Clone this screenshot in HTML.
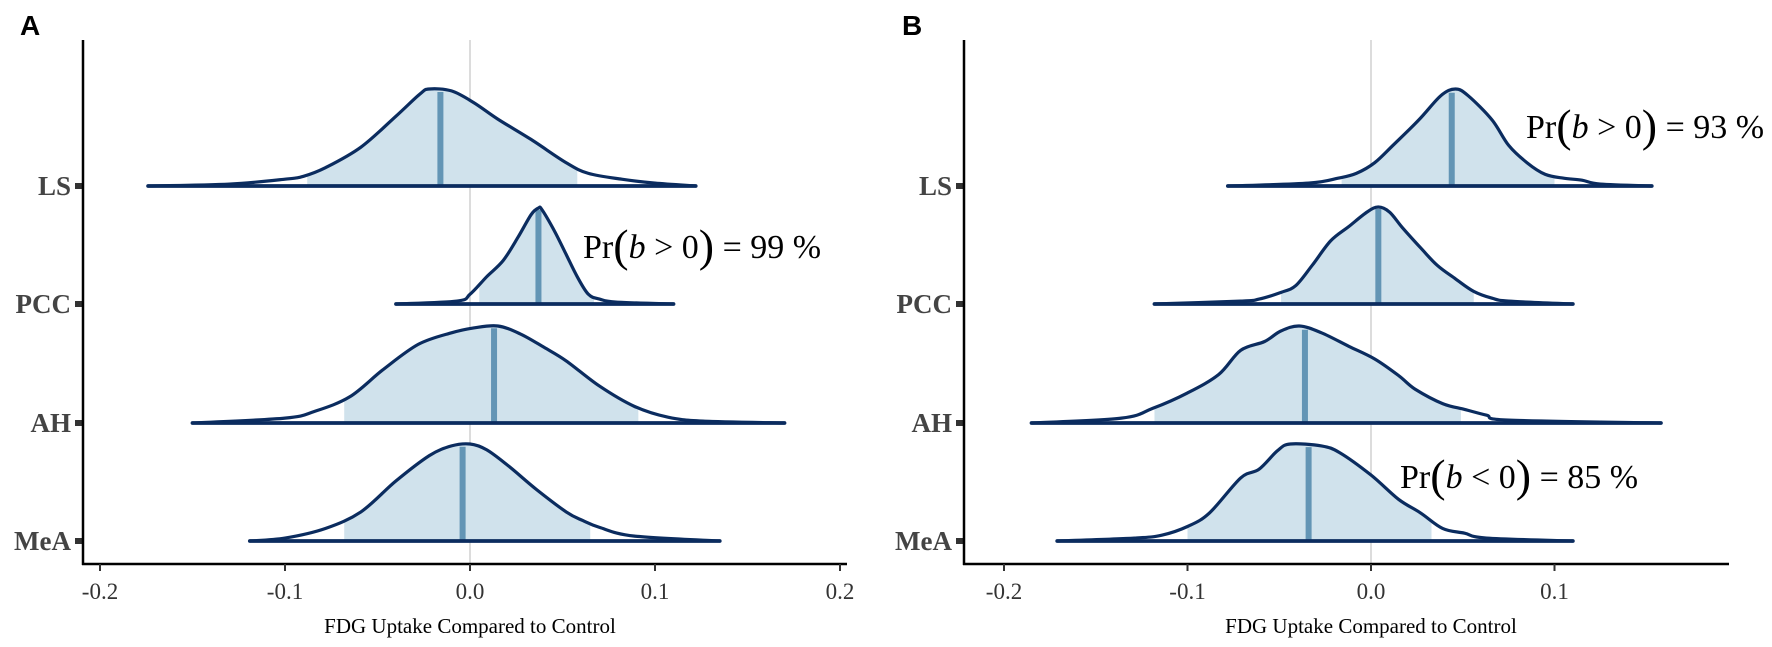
<!DOCTYPE html>
<html><head><meta charset="utf-8"><style>
html,body{margin:0;padding:0;background:#fff}
svg{display:block}
text{font-family:"Liberation Serif",serif}
text.sans{font-family:"Liberation Sans",sans-serif}
</style></head><body>
<svg id="chart" width="1772" height="647" viewBox="0 0 1772 647" xmlns="http://www.w3.org/2000/svg"></svg>
<script>
// ---------- data ----------
const categories = ['LS','PCC','AH','MeA'];
const tickValsA = [-0.2,-0.1,0.0,0.1,0.2];
const tickLabelsA = ['-0.2','-0.1','0.0','0.1','0.2'];
const tickValsB = [-0.2,-0.1,0.0,0.1];
const tickLabelsB = ['-0.2','-0.1','0.0','0.1'];

// Panel A densities (x in data units, h normalised height)
const aLSx = [-0.174,-0.13,-0.1,-0.09,-0.078,-0.059,-0.04,-0.027,-0.022,-0.01,0.002,0.015,0.033,0.052,0.064,0.082,0.1,0.122];
const aLSh = [0,0.02,0.07,0.1,0.19,0.4,0.72,0.95,1.0,0.98,0.86,0.69,0.48,0.24,0.13,0.07,0.03,0];
const aPCCx = [-0.04,-0.007,0,0.009,0.018,0.026,0.033,0.037,0.039,0.046,0.052,0.058,0.064,0.07,0.079,0.11];
const aPCCh = [0,0.03,0.1,0.28,0.45,0.69,0.92,0.99,0.97,0.74,0.51,0.28,0.1,0.05,0.02,0];
const aAHx = [-0.15,-0.1,-0.084,-0.065,-0.047,-0.028,-0.01,0.002,0.015,0.027,0.04,0.052,0.07,0.089,0.107,0.126,0.17];
const aAHh = [0,0.05,0.12,0.27,0.55,0.81,0.93,0.98,1.0,0.92,0.78,0.64,0.38,0.17,0.06,0.02,0];
const aMeAx = [-0.119,-0.1,-0.078,-0.059,-0.04,-0.022,-0.01,0,0.009,0.021,0.036,0.052,0.061,0.07,0.089,0.135];
const aMeAh = [0,0.03,0.13,0.3,0.62,0.88,0.98,1.0,0.94,0.77,0.53,0.3,0.21,0.14,0.05,0];
const aCILow = [-0.088,0.005,-0.068,-0.068];
const aCIHigh = [0.058,0.067,0.091,0.065];
const aMedian = [-0.016,0.037,0.013,-0.004];

// Panel B densities
const bLSx = [-0.078,-0.034,-0.018,-0.008,0.002,0.012,0.026,0.038,0.046,0.053,0.066,0.075,0.085,0.095,0.105,0.115,0.125,0.153];
const bLSh = [0,0.03,0.08,0.13,0.24,0.42,0.68,0.93,1.0,0.93,0.68,0.42,0.24,0.12,0.08,0.06,0.02,0];
const bPCCx = [-0.118,-0.071,-0.061,-0.049,-0.041,-0.032,-0.022,-0.012,-0.002,0.004,0.01,0.017,0.027,0.036,0.046,0.056,0.066,0.075,0.11];
const bPCCh = [0,0.03,0.05,0.12,0.19,0.4,0.65,0.8,0.95,1.0,0.95,0.79,0.58,0.4,0.26,0.13,0.06,0.03,0];
const bAHx = [-0.185,-0.136,-0.119,-0.1,-0.083,-0.071,-0.058,-0.049,-0.039,-0.027,-0.012,0.002,0.015,0.024,0.039,0.051,0.063,0.075,0.158];
const bAHh = [0,0.05,0.15,0.31,0.5,0.75,0.84,0.95,1.0,0.93,0.79,0.66,0.49,0.35,0.2,0.14,0.08,0.03,0];
const bMeAx = [-0.171,-0.129,-0.114,-0.1,-0.088,-0.071,-0.061,-0.051,-0.044,-0.027,-0.017,0,0.015,0.027,0.039,0.051,0.063,0.11];
const bMeAh = [0,0.03,0.06,0.15,0.29,0.65,0.74,0.93,1.0,0.98,0.91,0.68,0.43,0.29,0.13,0.08,0.03,0];
const bCILow = [-0.016,-0.049,-0.118,-0.1];
const bCIHigh = [0.1,0.056,0.049,0.033];
const bMedian = [0.044,0.004,-0.036,-0.034];

// ---------- layout ----------
const NS='http://www.w3.org/2000/svg';
const svg=document.getElementById('chart');
const baselines=[186,304,423,541];
const H=97, axisY=564, axisTop=40;
const FILL='#d0e2ec', LINE='#0b2c5f', MED='#6395b5';

function mk(tag, attrs, parent){const e=document.createElementNS(NS,tag);for(const k in attrs)e.setAttribute(k,attrs[k]);(parent||svg).appendChild(e);return e;}

function interp(xs,hs,x){if(x<=xs[0])return hs[0];for(let i=1;i<xs.length;i++){if(x<=xs[i]){const t=(x-xs[i-1])/(xs[i]-xs[i-1]);return hs[i-1]+t*(hs[i]-hs[i-1]);}}return hs[hs.length-1];}

function smoothPath(pts){let d='M'+pts[0][0]+','+pts[0][1];for(let i=0;i<pts.length-1;i++){const p0=pts[i-1]||pts[i],p1=pts[i],p2=pts[i+1],p3=pts[i+2]||p2;const c1x=p1[0]+(p2[0]-p0[0])/6,c1y=p1[1]+(p2[1]-p0[1])/6,c2x=p2[0]-(p3[0]-p1[0])/6,c2y=p2[1]-(p3[1]-p1[1])/6;d+=' C'+c1x.toFixed(1)+','+c1y.toFixed(1)+' '+c2x.toFixed(1)+','+c2y.toFixed(1)+' '+p2[0].toFixed(1)+','+p2[1].toFixed(1);}return d;}

function drawPanel(p){
  const g=mk('g',{});
  
  
  const sx=v=>p.zero+v*p.k;
  const zl=mk('line',{x1:sx(0),x2:sx(0),y1:axisTop,y2:axisY,stroke:'#dcdcdc','stroke-width':2},g);
  
  
  for(let r=0;r<categories.length;r++){
    const xs=p.xs[r],hs=p.hs[r],b=baselines[r];
    const rg=mk('g',{},g);
    
    
    const pts=xs.map((x,i)=>[sx(x),b-hs[i]*H]);
    const d=smoothPath(pts);
    const cid='clip-'+p.id+r;
    const cp=mk('clipPath',{id:cid},rg);
    mk('rect',{x:sx(p.lo[r]),y:0,width:sx(p.hi[r])-sx(p.lo[r]),height:647},cp);
    const f=mk('path',{d:d+' Z',fill:FILL,'clip-path':'url(#'+cid+')'},rg);
    
    
    const mh=interp(xs,hs,p.med[r]);
    const m=mk('line',{x1:sx(p.med[r]),x2:sx(p.med[r]),y1:b,y2:b-mh*H+2,stroke:MED,'stroke-width':6},rg);
    
    
    const o=mk('path',{d:d,fill:'none',stroke:LINE,'stroke-width':3.2,'stroke-linejoin':'round'},rg);
    
    
    const bl=mk('line',{x1:sx(xs[0]),x2:sx(xs[xs.length-1]),y1:b,y2:b,stroke:LINE,'stroke-width':3.8,'stroke-linecap':'round'},rg);
    
    
    mk('rect',{x:p.axisX-8,y:b-3,width:8,height:6,fill:'#333'},g);
    const yl=mk('text',{x:p.axisX-12,y:b+9,'text-anchor':'end','font-size':27,'font-weight':'bold',fill:'#444'},g);
    yl.textContent=categories[r];
    
    
  }
  const ya=mk('line',{x1:p.axisX,x2:p.axisX,y1:axisTop,y2:axisY+1,stroke:'#000','stroke-width':2.5},g);
  
  
  const xa=mk('line',{x1:p.axisX-1,x2:p.axisEnd,y1:axisY,y2:axisY,stroke:'#000','stroke-width':2.5},g);
  
  
  p.ticks.forEach((t,i)=>{
    mk('line',{x1:sx(t),x2:sx(t),y1:axisY,y2:axisY+7,stroke:'#333','stroke-width':2},g);
    const tl=mk('text',{x:sx(t),y:axisY+35,'text-anchor':'middle','font-size':23,fill:'#333'},g);
    tl.textContent=p.labels[i];
    
    
  });
  const xt=mk('text',{x:p.titleX,y:633,'text-anchor':'middle','font-size':21,fill:'#000'},g);
  xt.textContent='FDG Uptake Compared to Control';
  
  
  const pl=mk('text',{x:p.letterX,y:35,'font-size':28,'font-weight':'bold',fill:'#000','class':'sans'},g);
  pl.textContent=p.id;
  
  
}

function annot(x,y,sign,pct,name){
  const t=mk('text',{x:x,y:y,'font-size':34,fill:'#000'});
  
  
  t.innerHTML='Pr<tspan font-size="46" dy="3">(</tspan><tspan dy="-3" font-style="italic">b</tspan> '+sign+' 0<tspan font-size="46" dy="3">)</tspan><tspan dy="-3"> = '+pct+' %</tspan>';
}

drawPanel({id:'A',zero:470,k:1850,axisX:83,axisEnd:847,titleX:470,letterX:20,
  xs:[aLSx,aPCCx,aAHx,aMeAx],hs:[aLSh,aPCCh,aAHh,aMeAh],lo:aCILow,hi:aCIHigh,med:aMedian,ticks:tickValsA,labels:tickLabelsA});
drawPanel({id:'B',zero:1371,k:1835,axisX:964,axisEnd:1729,titleX:1371,letterX:902,
  xs:[bLSx,bPCCx,bAHx,bMeAx],hs:[bLSh,bPCCh,bAHh,bMeAh],lo:bCILow,hi:bCIHigh,med:bMedian,ticks:tickValsB,labels:tickLabelsB});

annot(583,258,'&gt;','99','annotation-a-pcc');
annot(1526,138,'&gt;','93','annotation-b-ls');
annot(1400,488,'&lt;','85','annotation-b-mea');
</script>
</body></html>
